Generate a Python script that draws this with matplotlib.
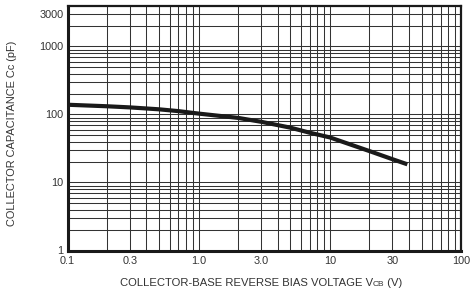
import matplotlib
matplotlib.use("Agg")
import matplotlib.pyplot as plt
import numpy as np
from matplotlib.offsetbox import TextArea, HPacker, AnchoredOffsetbox

plt.rcParams['font.family'] = ['Liberation Sans', 'DejaVu Sans']

# Data
vcb = [0.1, 0.2, 0.3, 0.5, 0.7, 1.0, 2.0, 3.0, 5.0, 7.0, 10, 20, 30, 39]
cc = [139, 132, 127, 119, 112, 103, 89, 78, 64, 54, 46, 29, 22, 18.5]

x_ticks = [0.1, 0.3, 1.0, 3.0, 10, 30, 100]
x_ticklabels = ["0.1", "0.3", "1.0", "3.0", "10", "30", "100"]
y_ticks = [1, 10, 100, 1000, 3000]
y_ticklabels = ["1", "10", "100", "1000", "3000"]

fig = plt.figure(figsize=(4.71, 2.98), dpi=100)
ax = fig.add_axes([67.5/471, 1-250.5/298, (461-67.5)/471, (250.5-5.5)/298])
ax.set_xscale('log')
ax.set_yscale('log')
ax.set_xlim(0.1, 100)
ax.set_ylim(1, 4000)

# grid lines at 1..9 x decade
gc = '#333333'
for d in [0.1, 1, 10]:
    for m in range(1, 10):
        v = d * m
        if 0.1 < v < 100:
            ax.axvline(v, color=gc, lw=0.75, zorder=1)
for d in [1, 10, 100, 1000]:
    for m in range(1, 10):
        v = d * m
        if 1 < v < 4000:
            ax.axhline(v, color=gc, lw=0.75, zorder=1)

ax.plot(vcb, cc, color='#1a1a1a', lw=3.0, solid_capstyle='butt', zorder=3)

ax.set_xticks(x_ticks)
ax.set_xticklabels(x_ticklabels)
ax.set_yticks(y_ticks)
ax.set_yticklabels(y_ticklabels)
ax.minorticks_off()
ax.tick_params(length=0, labelsize=7.8, colors='#333333', pad=4)
ax.tick_params(axis='y', pad=3)

for s in ['left', 'bottom']:
    ax.spines[s].set_linewidth(2.2)
for s in ['top', 'right']:
    ax.spines[s].set_linewidth(1.6)
for s in ax.spines.values():
    s.set_color('#1a1a1a')
    s.set_zorder(4)

fig.text(12/471, 1-133/298, "COLLECTOR CAPACITANCE Cc (pF)", rotation=90,
         ha='center', va='center', fontsize=7.9, color='#333333')

tp = dict(fontsize=8.1, color='#333333')
ts = dict(fontsize=6.0, color='#333333')
box = HPacker(children=[TextArea("COLLECTOR-BASE REVERSE BIAS VOLTAGE V", textprops=tp),
                        TextArea("CB", textprops=ts),
                        TextArea(" (V)", textprops=tp)],
              align='baseline', pad=0, sep=0)
anch = AnchoredOffsetbox(loc='center', child=box, frameon=False,
                         bbox_to_anchor=(261/471, 1-283/298),
                         bbox_transform=fig.transFigure, pad=0, borderpad=0)
fig.add_artist(anch)

fig.savefig("out.png", dpi=100)
